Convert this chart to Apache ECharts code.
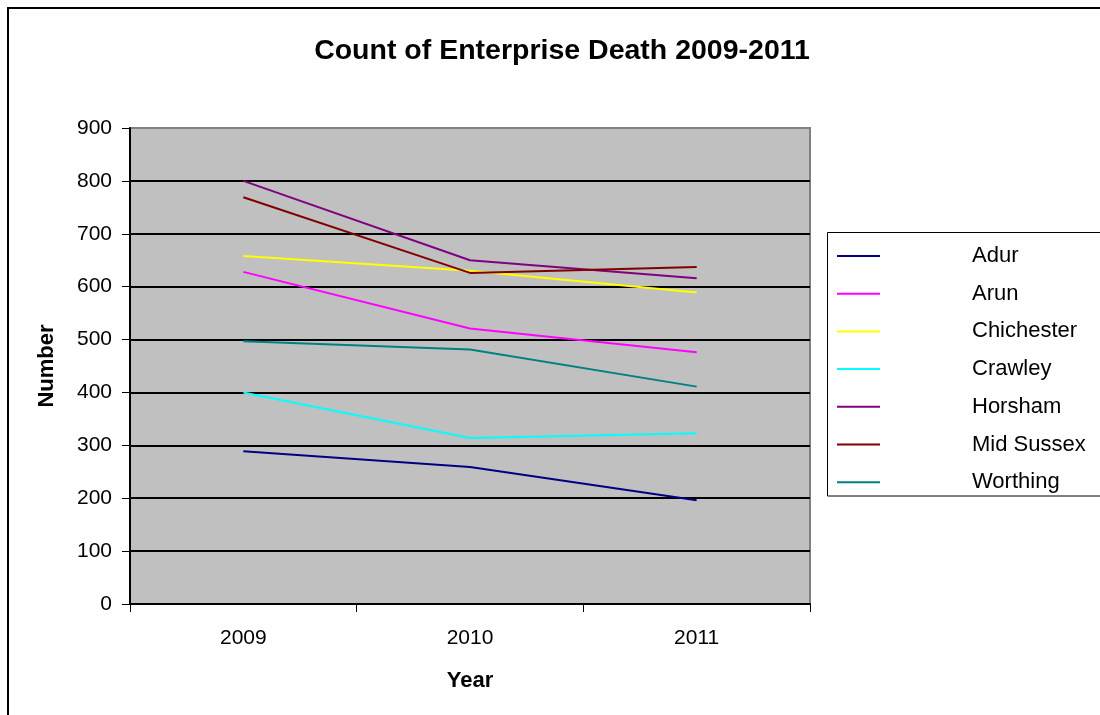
<!DOCTYPE html>
<html>
<head>
<meta charset="utf-8">
<script src="https://cdn.jsdelivr.net/npm/echarts@6/dist/echarts.min.js"></script>
<style>
html,body{margin:0;padding:0;background:#fff;}
#c{width:1100px;height:715px;}
</style>
</head>
<body>
<div id="c"></div>
<script>
var years = ['2009', '2010', '2011'];
var seriesNames = ['Adur', 'Arun', 'Chichester', 'Crawley', 'Horsham', 'Mid Sussex', 'Worthing'];
var adur = [289, 259, 196];
var arun = [628, 521, 476];
var chichester = [658, 630, 589];
var crawley = [400, 314, 323];
var horsham = [800, 650, 616];
var midSussex = [769, 626, 637];
var worthing = [497, 481, 411];
var colors = ['#000080', '#FF00FF', '#FFFF00', '#00FFFF', '#800080', '#800000', '#008080'];
var allData = [adur, arun, chichester, crawley, horsham, midSussex, worthing];

var font = 'Liberation Sans, Arial, sans-serif';
var gridColors = ['#000', '#000', '#000', '#000', '#000', '#000', '#000', '#000', '#000', '#808080'];
var chart = echarts.init(document.getElementById('c'), null, {renderer: 'canvas'});
chart.setOption({
  animation: false,
  backgroundColor: '#fff',
  textStyle: {fontFamily: font},
  title: {
    text: 'Count of Enterprise Death 2009-2011',
    left: 557, top: 32, textAlign: 'center',
    textStyle: {fontFamily: font, fontSize: 28.5, fontWeight: 'bold', color: '#000'}
  },
  graphic: [
    {type: 'rect', shape: {x: 8, y: 8, width: 1200, height: 800}, style: {fill: 'none', stroke: '#000', lineWidth: 2}, z: 100},
    {type: 'rect', shape: {x: 827.5, y: 232.5, width: 300, height: 263.5}, style: {fill: '#fff', stroke: '#000', lineWidth: 1}, z: 1}
  ],
  legend: {
    orient: 'vertical',
    left: 837, top: 245,
    padding: 0,
    itemWidth: 43, itemHeight: 2,
    itemGap: 15.7,
    icon: 'rect',
    z: 10,
    data: seriesNames,
    textStyle: {fontFamily: font, fontSize: 22, color: '#000', lineHeight: 22, padding: [0, 0, 0, 87]}
  },
  grid: {
    left: 130, right: 290, top: 128, bottom: 111,
    show: true, backgroundColor: '#C0C0C0', borderColor: '#808080', borderWidth: 2
  },
  xAxis: {
    type: 'category',
    data: years,
    boundaryGap: true,
    name: 'Year', nameLocation: 'middle', nameGap: 66,
    nameTextStyle: {fontFamily: font, fontSize: 22, fontWeight: 'bold', color: '#000'},
    axisLine: {lineStyle: {color: '#000', width: 2}},
    axisTick: {show: true, length: 8, inside: false, lineStyle: {color: '#000', width: 1}},
    axisLabel: {fontFamily: font, fontSize: 21, color: '#000', margin: 24},
    splitLine: {show: false}
  },
  yAxis: {
    type: 'value',
    min: 0, max: 900, interval: 100,
    name: 'Number', nameLocation: 'middle', nameGap: 72,
    nameTextStyle: {fontFamily: font, fontSize: 22, fontWeight: 'bold', color: '#000'},
    axisLine: {show: true, lineStyle: {color: '#000', width: 2}},
    axisTick: {show: true, length: 8, inside: false, lineStyle: {color: '#000', width: 1}},
    axisLabel: {fontFamily: font, fontSize: 21, color: '#000', margin: 18},
    splitLine: {show: true, lineStyle: {color: gridColors, width: 2}}
  },
  series: seriesNames.map(function (n, i) {
    return {
      name: n, type: 'line', data: allData[i],
      symbol: 'none', showSymbol: false,
      color: colors[i],
      lineStyle: {color: colors[i], width: 2}
    };
  })
});
</script>
</body>
</html>
